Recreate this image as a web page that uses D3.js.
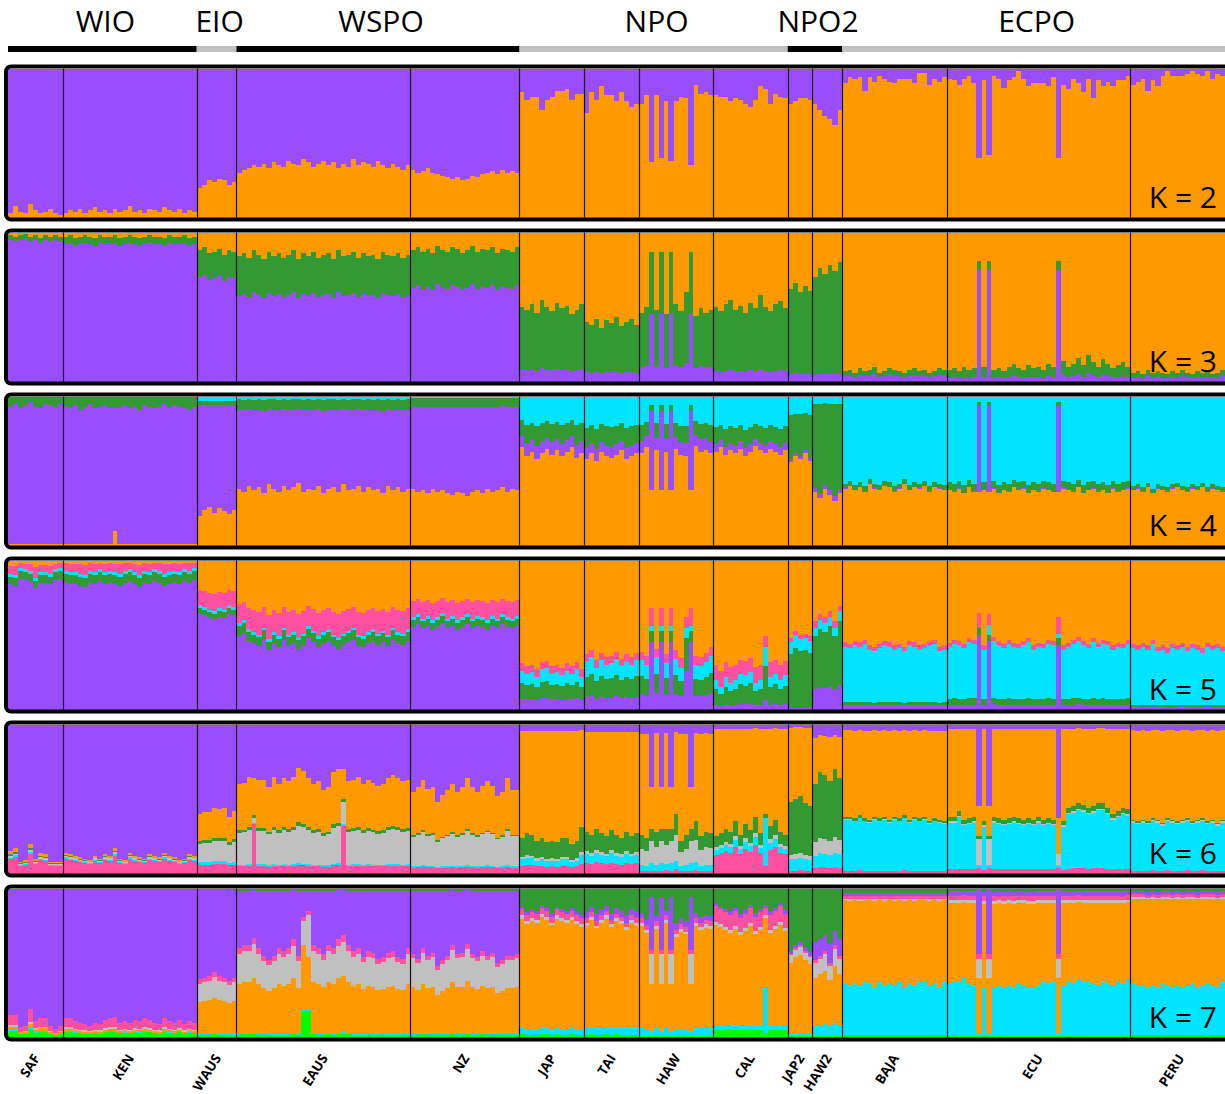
<!DOCTYPE html>
<html>
<head>
<meta charset="utf-8">
<script src="https://cdn.jsdelivr.net/npm/d3@7"></script>
<style>
body { margin: 0; background: #fff; }
svg text { font-family: "Open Sans", "Noto Sans", sans-serif; }
</style>
</head>
<body>
<script>
// populations, left to right, with number of individuals
var pops = ["SAF", "KEN", "WAUS", "EAUS", "NZ", "JAP", "TAI", "HAW", "CAL", "JAP2", "HAW2", "BAJA", "ECU", "PERU"];
var popSizes = [11, 27, 8, 35, 22, 13, 11, 15, 15, 5, 6, 21, 37, 20];

// ocean regions: name, first pop, last pop
var regions = ["WIO", "EIO", "WSPO", "NPO", "NPO2", "ECPO"];
var regionFirst = [0, 2, 3, 5, 9, 11];
var regionLast = [1, 2, 4, 8, 10, 13];

var kValues = [2, 3, 4, 5, 6, 7];

// cluster stacking order, bottom to top
var k2Order = ["orange", "purple"];
var k3Order = ["purple", "green", "orange"];
var k4Order = ["orange", "purple", "green", "cyan"];
var k5Order = ["purple", "green", "cyan", "pink", "orange"];
var k6Order = ["pink", "cyan", "grey", "green", "orange", "purple"];
var k7Order = ["lime", "cyan", "orange", "grey", "pink", "purple", "green"];

// population mean profiles (same order as the stack)
var k2Profiles = [[1,1],[1,1],[1,1],[1,1],[1,1],[1,1],[1,1],[1,1],[1,1],[1,1],[1,1],[1,1],[1,1],[1,1]];
var k3Profiles = [
  [0.95,0.03,0.02],[0.94,0.05,0.01],[0.70,0.18,0.12],[0.58,0.27,0.15],[0.63,0.25,0.12],
  [0.08,0.42,0.50],[0.07,0.38,0.55],[0.10,0.38,0.52],[0.07,0.43,0.50],[0.05,0.55,0.40],
  [0.05,0.70,0.25],[0.04,0.04,0.92],[0.03,0.07,0.90],[0.03,0.04,0.93]];
var k4Profiles = [
  [0.01,0.92,0.07,0.0],[0.01,0.91,0.08,0.0],[0.22,0.72,0.03,0.03],[0.38,0.53,0.07,0.02],[0.36,0.57,0.06,0.01],
  [0.62,0.08,0.12,0.18],[0.60,0.07,0.13,0.20],[0.64,0.08,0.10,0.18],[0.64,0.05,0.11,0.20],[0.58,0.02,0.28,0.12],
  [0.34,0.03,0.58,0.05],[0.38,0.005,0.03,0.585],[0.36,0.005,0.05,0.585],[0.37,0.005,0.025,0.60]];
var k5Profiles = [
  [0.85,0.05,0.02,0.05,0.03],[0.85,0.06,0.02,0.05,0.02],[0.65,0.04,0.02,0.10,0.19],[0.52,0.07,0.02,0.12,0.27],[0.58,0.05,0.02,0.10,0.25],
  [0.07,0.10,0.08,0.05,0.70],[0.08,0.13,0.10,0.05,0.64],[0.10,0.12,0.10,0.06,0.62],[0.03,0.11,0.06,0.10,0.70],[0.01,0.38,0.08,0.03,0.50],
  [0.15,0.40,0.06,0.04,0.35],[0.03,0.02,0.37,0.03,0.55],[0.03,0.04,0.34,0.03,0.56],[0.02,0.01,0.38,0.03,0.56]];
var k6Profiles = [
  [0.09,0.01,0.01,0.01,0.02,0.86],[0.09,0.01,0.01,0.005,0.015,0.87],[0.06,0.02,0.13,0.02,0.19,0.58],[0.05,0.01,0.22,0.02,0.32,0.38],[0.04,0.01,0.20,0.01,0.30,0.44],
  [0.06,0.05,0.02,0.15,0.68,0.04],[0.07,0.06,0.02,0.13,0.67,0.05],[0.02,0.04,0.12,0.10,0.66,0.06],[0.14,0.04,0.02,0.08,0.69,0.03],[0.02,0.08,0.03,0.37,0.48,0.02],
  [0.04,0.09,0.10,0.42,0.27,0.08],[0.02,0.34,0.005,0.015,0.58,0.04],[0.03,0.33,0.01,0.03,0.57,0.03],[0.02,0.32,0.01,0.01,0.60,0.04]];
var k7Profiles = [
  [0.04,0.005,0.02,0.01,0.06,0.855,0.01],[0.03,0.005,0.01,0.01,0.05,0.885,0.01],[0.02,0.01,0.22,0.13,0.03,0.58,0.01],[0.02,0.01,0.33,0.20,0.04,0.385,0.015],[0.02,0.005,0.32,0.20,0.03,0.41,0.015],
  [0.02,0.04,0.72,0.02,0.04,0.02,0.14],[0.02,0.05,0.70,0.02,0.03,0.04,0.14],[0.01,0.05,0.65,0.02,0.03,0.04,0.20],[0.05,0.03,0.65,0.02,0.10,0.02,0.13],[0.01,0.02,0.50,0.05,0.01,0.02,0.39],
  [0.01,0.07,0.32,0.10,0.02,0.12,0.36],[0.015,0.345,0.56,0.01,0.02,0.02,0.03],[0.01,0.34,0.55,0.02,0.03,0.03,0.02],[0.015,0.335,0.58,0.01,0.02,0.02,0.02]];

// how many clusters (from the bottom) the per-individual value covers
var k2Split = [1,1,1,1,1,1,1,1,1,1,1,1,1,1];
var k3Split = [2,2,2,2,2,2,2,2,2,2,2,2,2,2];
var k4Split = [2,2,1,1,1,1,1,1,1,1,1,1,1,1];
var k5Split = [3,3,3,3,3,3,3,3,3,3,3,3,3,3];
var k6Split = [5,5,5,5,5,4,4,4,4,4,4,4,4,4];
var k7Split = [5,5,5,5,5,5,5,5,5,5,5,2,2,2];

// per individual: % of ancestry in the lower clusters
var k2Keys = [
  [3,8,4,3,9,5,3,4,6,3,2],
  [3,5,4,6,3,5,7,4,5,3,6,4,5,8,4,5,3,6,5,4,7,5,4,6,3,5,4],
  [20,22,25,24,26,25,22,24],
  [30,32,33,35,34,36,33,37,35,34,38,36,35,39,37,34,36,38,35,37,33,36,34,39,35,37,36,34,38,35,33,36,34,32,35],
  [32,30,31,33,30,29,28,27,26,27,25,26,28,27,29,30,31,29,32,30,31,30],
  [84,79,81,81,72,79,81,85,85,86,79,83,83],
  [70,84,79,88,82,82,78,84,78,74,76],
  [76,82,37,82,40,78,38,78,81,80,35,89,83,84,82],
  [82,81,81,78,80,79,76,74,79,88,86,76,83,81,80],
  [76,78,80,80,79],
  [76,72,68,66,62,72],
  [90,94,93,94,85,94,91,95,93,91,90,93,93,93,90,97,97,89,93,91,94],
  [93,92,89,93,95,90,40,92,42,95,93,87,92,94,98,93,88,90,90,90,88,94,40,89,86,93,90,84,93,80,92,88,91,88,92,92,95],
  [89,91,93,85,92,88,95,98,95,95,95,96,98,96,95,98,93,96,95,94]];
var k3Keys = [
  [98,97,98,99,97,98,96,98,97,98,97],
  [97,98,96,97,98,97,96,98,97,97,98,96,97,98,97,96,97,98,97,97,96,98,97,97,98,96,97],
  [88,90,86,87,89,85,88,87],
  [84,86,83,88,85,82,87,84,86,83,85,88,82,86,84,87,83,85,86,82,88,84,85,87,83,86,84,85,82,87,85,84,86,83,85],
  [88,90,87,89,86,91,88,87,90,89,86,88,91,87,89,88,90,86,89,88,87,90],
  [50,48,52,46,55,50,47,53,49,51,45,48,52],
  [40,38,42,36,41,39,43,37,40,42,38],
  [46,50,90,48,90,45,90,52,47,60,90,44,49,46,48],
  [50,47,52,55,48,51,46,53,49,58,50,47,52,54,49],
  [62,66,60,64,61],
  [70,76,72,78,74,80],
  [7,8,6,9,7,8,10,6,7,9,8,7,6,8,9,7,8,6,7,9,8],
  [8,9,7,10,8,9,80,10,80,8,9,7,10,12,9,8,11,9,10,8,12,10,80,14,10,12,16,11,18,13,10,15,12,9,11,13,10],
  [6,7,5,8,6,7,6,5,7,6,8,6,5,7,6,7,5,6,8,7]];
var k4Keys = [
  [93,95,92,94,96,93,92,95,94,93,95],
  [93,92,94,91,93,95,92,93,94,92,91,93,94,92,93,91,94,93,92,93,95,92,94,93,92,91,93],
  [20,24,26,22,25,23,21,24],
  [38,36,40,37,39,35,41,38,36,40,37,39,42,36,38,37,40,35,38,39,36,41,37,38,40,36,39,37,38,35,40,37,39,36,38],
  [38,36,37,35,38,36,37,35,34,36,35,33,36,37,35,38,36,37,39,36,38,37],
  [66,60,63,58,62,65,61,64,60,63,66,59,62],
  [58,62,57,63,60,59,61,64,58,60,62],
  [62,66,35,64,35,63,35,65,61,60,35,67,63,64,62],
  [63,66,61,64,62,65,60,63,67,64,62,65,63,61,64],
  [56,60,58,62,57],
  [36,32,38,34,30,35],
  [38,40,37,39,36,41,38,37,40,39,36,38,41,37,39,38,40,36,39,38,37],
  [37,36,38,35,39,36,33,37,33,38,35,37,36,39,37,38,35,37,36,38,37,36,33,38,37,36,39,35,37,38,36,37,35,38,36,37,38],
  [37,38,36,39,35,38,37,36,38,39,37,36,38,37,39,36,38,37,36,38]];
var k5Keys = [
  [91,90,95,94,93,88,92,92,91,94,95],
  [93,92,92,91,90,93,92,94,92,93,92,91,93,94,92,90,93,92,94,93,91,92,93,92,94,93,95],
  [70,69,67,66,68,67,70,69],
  [58,60,54,52,50,55,47,52,49,55,50,52,48,51,56,53,49,52,54,50,48,51,53,55,50,49,52,54,51,53,50,55,52,51,54],
  [62,64,61,63,60,62,65,61,63,60,62,64,61,63,62,60,63,61,64,62,61,63],
  [26,24,25,22,27,28,24,25,23,26,24,27,22],
  [32,35,28,33,30,31,34,29,32,30,33],
  [33,30,50,35,50,31,50,34,28,36,50,30,29,32,36],
  [20,15,22,18,20,24,23,25,18,20,42,22,24,20,23],
  [45,50,47,48,46],
  [55,60,58,62,55,66],
  [42,41,43,42,44,40,39,41,43,42,40,41,39,43,42,40,41,43,44,39,40],
  [42,44,43,41,45,44,60,40,60,46,43,41,44,42,41,43,45,40,42,41,44,43,60,40,42,44,46,43,41,45,42,44,43,40,42,41,44],
  [41,40,42,40,44,39,40,38,41,40,42,39,41,40,38,42,40,41,39,40]];
var k6Keys = [
  [15,17,8,9,20,10,14,13,8,8,8],
  [14,13,12,11,10,9,12,10,13,12,17,10,9,14,12,11,10,13,12,11,14,12,11,9,10,13,12],
  [40,41,41,44,43,44,38,42],
  [60,61,65,58,63,63,58,65,60,64,62,65,71,69,64,60,62,56,58,68,70,69,62,63,65,60,63,61,59,60,64,66,64,62,63],
  [55,58,63,57,58,48,53,56,60,55,58,64,58,55,59,62,59,52,55,64,56,56],
  [24,27,26,22,24,21,22,21,24,24,20,22,31],
  [28,26,30,27,25,29,26,24,28,25,27],
  [26,24,30,28,30,30,30,40,22,26,30,35,25,28,27],
  [25,27,30,28,35,26,33,29,38,27,30,32,36,28,26],
  [48,50,52,47,45],
  [60,68,66,62,70,64],
  [38,38,37,39,37,36,38,37,38,36,38,37,39,36,38,37,38,35,37,36,35],
  [38,38,42,36,37,38,30,35,30,38,37,36,37,38,37,36,37,36,38,36,37,36,30,35,44,45,47,46,44,45,47,47,44,40,42,44,43],
  [36,35,36,35,37,36,34,37,36,35,36,37,35,36,37,35,36,34,36,37]];
var k7Keys = [
  [15,15,7,8,19,11,13,13,8,6,8],
  [13,13,11,10,9,8,10,9,12,13,14,10,11,10,12,11,13,12,10,9,13,11,10,12,9,11,10],
  [39,40,41,44,41,40,38,40],
  [60,62,62,67,60,55,52,55,60,58,60,66,55,80,80,62,60,56,62,60,66,69,62,58,60,54,58,57,53,54,57,58,54,53,60],
  [56,53,60,55,57,48,52,55,62,56,57,63,56,54,58,55,57,50,52,55,55,56],
  [86,82,84,83,87,85,81,86,84,83,85,82,80],
  [80,84,78,82,85,79,83,81,77,82,80],
  [80,75,60,78,60,82,60,72,76,74,60,80,77,79,78],
  [88,86,84,82,85,80,83,87,81,84,86,82,85,88,83],
  [56,60,62,58,55],
  [52,55,58,50,62,55],
  [36,35,36,35,37,36,33,37,35,36,35,37,34,36,35,38,37,35,36,34,37],
  [36,37,38,40,36,35,3,33,3,34,35,33,35,34,36,35,33,34,35,37,36,38,3,35,37,36,39,37,38,36,35,37,36,35,38,36,39],
  [36,35,35,34,35,34,36,35,34,35,33,35,36,34,35,36,35,34,37,36]];

// individuals that stand out from their population: [K, pop, index, proportions]
var overrides = [
  [3,"HAW",2,[0.45,0.42,0.13]],[3,"HAW",4,[0.45,0.42,0.13]],[3,"HAW",6,[0.45,0.42,0.13]],[3,"HAW",10,[0.45,0.42,0.13]],
  [3,"ECU",6,[0.75,0.06,0.19]],[3,"ECU",8,[0.75,0.06,0.19]],[3,"ECU",22,[0.75,0.06,0.19]],
  [4,"KEN",10,[0.10,0.82,0.08,0.0]],
  [4,"HAW",2,[0.37,0.53,0.04,0.06]],[4,"HAW",4,[0.37,0.53,0.04,0.06]],[4,"HAW",6,[0.37,0.53,0.04,0.06]],[4,"HAW",10,[0.37,0.53,0.04,0.06]],
  [4,"ECU",6,[0.36,0.58,0.02,0.04]],[4,"ECU",8,[0.36,0.58,0.02,0.04]],[4,"ECU",22,[0.36,0.58,0.02,0.04]],
  [5,"HAW",2,[0.45,0.08,0.03,0.12,0.32]],[5,"HAW",4,[0.45,0.08,0.03,0.12,0.32]],[5,"HAW",6,[0.45,0.08,0.03,0.12,0.32]],[5,"HAW",10,[0.45,0.08,0.03,0.12,0.32]],
  [5,"HAW",9,[0.26,0.22,0.07,0.07,0.38]],
  [5,"ECU",6,[0.50,0.05,0.0,0.10,0.35]],[5,"ECU",8,[0.46,0.04,0.07,0.07,0.36]],[5,"ECU",22,[0.43,0.05,0.03,0.11,0.38]],
  [6,"EAUS",3,[0.33,0.01,0.03,0.02,0.25,0.36]],[6,"EAUS",21,[0.32,0.01,0.15,0.02,0.20,0.30]],
  [6,"HAW",2,[0.02,0.05,0.15,0.08,0.28,0.42]],[6,"HAW",4,[0.02,0.05,0.15,0.08,0.28,0.42]],[6,"HAW",6,[0.02,0.05,0.15,0.08,0.28,0.42]],[6,"HAW",10,[0.02,0.05,0.15,0.08,0.28,0.42]],
  [6,"CAL",10,[0.05,0.32,0.0,0.03,0.57,0.03]],
  [6,"ECU",6,[0.04,0.02,0.17,0.02,0.20,0.55]],[6,"ECU",8,[0.04,0.02,0.17,0.02,0.20,0.55]],[6,"ECU",22,[0.04,0.02,0.07,0.0,0.24,0.63]],
  [7,"EAUS",13,[0.18,0.01,0.43,0.16,0.03,0.17,0.02]],[7,"EAUS",14,[0.18,0.01,0.35,0.28,0.03,0.13,0.02]],
  [7,"HAW",2,[0.01,0.03,0.32,0.20,0.03,0.35,0.06]],[7,"HAW",4,[0.01,0.03,0.32,0.20,0.03,0.35,0.06]],[7,"HAW",6,[0.01,0.03,0.32,0.20,0.03,0.35,0.06]],[7,"HAW",10,[0.01,0.03,0.32,0.20,0.03,0.35,0.06]],
  [7,"CAL",10,[0.03,0.30,0.47,0.02,0.05,0.02,0.11]],
  [7,"ECU",6,[0.01,0.02,0.37,0.13,0.03,0.44,0.0]],[7,"ECU",8,[0.01,0.02,0.37,0.13,0.03,0.44,0.0]],[7,"ECU",22,[0.01,0.02,0.37,0.13,0.03,0.44,0.0]]];

var colors = { purple: "#9a4cff", orange: "#ff9900", green: "#339933", cyan: "#00e5ff",
               pink: "#ff4f9f", grey: "#c0c0c0", lime: "#00ff00" };

var panels = [
  { k: 2, order: k2Order, profiles: k2Profiles, split: k2Split, keys: k2Keys },
  { k: 3, order: k3Order, profiles: k3Profiles, split: k3Split, keys: k3Keys },
  { k: 4, order: k4Order, profiles: k4Profiles, split: k4Split, keys: k4Keys },
  { k: 5, order: k5Order, profiles: k5Profiles, split: k5Split, keys: k5Keys },
  { k: 6, order: k6Order, profiles: k6Profiles, split: k6Split, keys: k6Keys },
  { k: 7, order: k7Order, profiles: k7Profiles, split: k7Split, keys: k7Keys }
];

var N = d3.sum(popSizes);
var popStart = [], acc = 0;
popSizes.forEach(function (n) { popStart.push(acc); acc += n; });

var x0 = 8, bw = 4.966;
var x = d3.scaleBand().domain(d3.range(N)).range([x0, x0 + N * bw]).padding(0);
var firstTop = 68.5, panelH = 149, panelGap = 164;

var svg = d3.select("body").append("svg")
    .attr("width", 1225)
    .attr("height", 1094);

function buildRows(pn) {
  var rows = [];
  pops.forEach(function (p, pi) {
    var prof = pn.profiles[pi], s = pn.split[pi];
    var lo = d3.sum(prof.slice(0, s)), hi = d3.sum(prof.slice(s));
    pn.keys[pi].slice(0, popSizes[pi]).forEach(function (v, j) {
      var q = prof.map(function (a, c) {
        return c < s ? a * (v / 100) / lo : a * (1 - v / 100) / hi;
      });
      var ov = overrides.find(function (o) { return o[0] === pn.k && o[1] === p && o[2] === j; });
      if (ov) {
        var t = d3.sum(ov[3]);
        q = ov[3].map(function (a) { return a / t; });
      }
      var row = { idx: popStart[pi] + j };
      q.forEach(function (a, c) { row[c] = a; });
      rows.push(row);
    });
  });
  return rows;
}

panels.forEach(function (pn, i) {
  var top = firstTop + i * panelGap;
  var y = d3.scaleLinear().domain([0, 1]).range([top + panelH, top]);
  var series = d3.stack().keys(d3.range(pn.order.length))(buildRows(pn));

  var g = svg.append("g");
  g.selectAll("g.layer")
    .data(series)
    .enter().append("g")
    .attr("fill", function (d) { return colors[pn.order[d.key]]; })
    .selectAll("rect")
    .data(function (d) { return d; })
    .enter().append("rect")
    .attr("shape-rendering", "crispEdges")
    .attr("x", function (d) { return x(d.data.idx); })
    .attr("width", x.bandwidth() + 0.4)
    .attr("y", function (d) { return y(d[1]); })
    .attr("height", function (d) { return Math.max(0, y(d[0]) - y(d[1])); });

  // population separators
  g.selectAll("line.sep")
    .data(popStart.slice(1))
    .enter().append("line")
    .attr("x1", function (d) { return Math.round(x(d)) + 0.5; })
    .attr("x2", function (d) { return Math.round(x(d)) + 0.5; })
    .attr("y1", top)
    .attr("y2", top + panelH)
    .attr("stroke", "#111")
    .attr("stroke-width", 1.2);

  // frame
  g.append("rect")
    .attr("x", x0 - 2)
    .attr("y", top - 2)
    .attr("width", N * bw + 4)
    .attr("height", panelH + 4)
    .attr("rx", 5)
    .attr("fill", "none")
    .attr("stroke", "#000")
    .attr("stroke-width", 4);

  g.append("text")
    .attr("x", 1217)
    .attr("y", top + panelH - 10)
    .attr("text-anchor", "end")
    .attr("font-size", 30)
    .attr("fill", "#000")
    .text("K = " + pn.k);
});

// region bars and names along the top
regions.forEach(function (r, i) {
  var xa = x(popStart[regionFirst[i]]);
  var xb = x(popStart[regionLast[i]]) + popSizes[regionLast[i]] * bw;
  if (i === regions.length - 1) xb = x0 + N * bw;
  svg.append("rect")
    .attr("x", xa)
    .attr("y", 46)
    .attr("width", xb - xa)
    .attr("height", 6)
    .attr("fill", i % 2 === 0 ? "#000" : "#c0c0c0");
  svg.append("text")
    .attr("x", (xa + Math.min(xb, 1225)) / 2 + 3)
    .attr("y", 32)
    .attr("text-anchor", "middle")
    .attr("font-size", 30)
    .attr("fill", "#000")
    .text(r);
});

// population names under the bottom panel
pops.forEach(function (p, pi) {
  var cx = x(popStart[pi]) + popSizes[pi] * bw / 2 + 5;
  svg.append("text")
    .attr("transform", "translate(" + cx + ",1058) rotate(-58)")
    .attr("text-anchor", "end")
    .attr("font-family", "Liberation Sans, Arial, sans-serif")
    .attr("font-weight", "bold")
    .attr("font-size", 13.5)
    .attr("fill", "#000")
    .text(p);
});
</script>
</body>
</html>
